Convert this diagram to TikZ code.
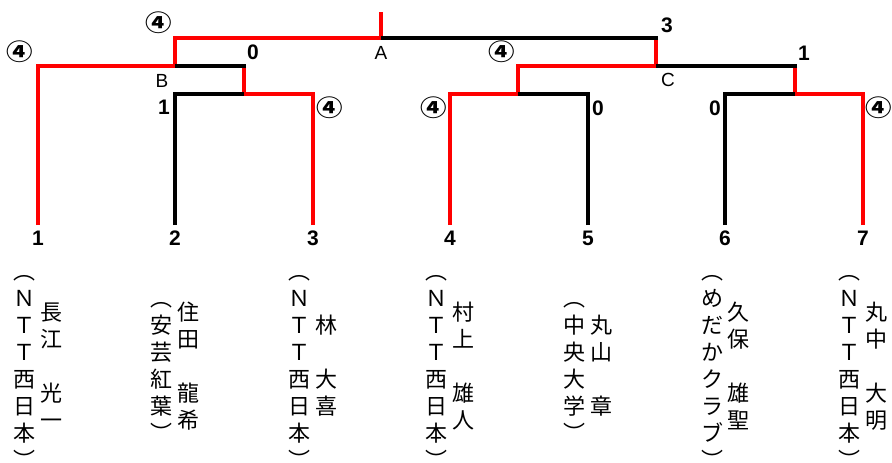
\documentclass[tikz,border=0pt]{standalone}
\usepackage{fontspec}
\usepackage{graphicx}
\setmainfont{Liberation Sans}
\newfontfamily\jp{Noto Sans CJK JP}
\newcommand{\vp}{\vphantom{国}}
\newcommand{\four}{\scalebox{1}[0.87]{④}}
\begin{document}
\begin{tikzpicture}[x=1pt,y=-1pt,
  wl/.style={line width=4pt, line join=miter},
  win/.style={wl, draw=red},
  lose/.style={wl, draw=black},
  num/.style={font=\fontsize{21}{21}\selectfont\bfseries, inner sep=0pt},
  mk/.style={font=\jp\bfseries\fontsize{26.5}{26.5}\selectfont, inner sep=0pt},
  lb/.style={font=\fontsize{19}{19}\selectfont, inner sep=0pt},
  vt/.style={font=\jp\fontsize{22}{27}\selectfont, align=center, inner sep=0pt, anchor=center}
]
\useasboundingbox (0,0) rectangle (892,463);
% bottom ends
\coordinate (b1) at (38,225);
\coordinate (b2) at (175,225);
\coordinate (b3) at (313,225);
\coordinate (b4) at (450,225);
\coordinate (b5) at (588,225);
\coordinate (b6) at (725,225);
\coordinate (b7) at (863,225);
% corners
\coordinate (h1) at (38,66);
\coordinate (h2) at (175,94);
\coordinate (h3) at (313,94);
\coordinate (h4) at (450,94);
\coordinate (h5) at (588,94);
\coordinate (h6) at (725,94);
\coordinate (h7) at (863,94);
% junctions
\coordinate (j23) at (244,94);
\coordinate (u23) at (244,66);
\coordinate (jB) at (175,66);
\coordinate (uB) at (175,38);
\coordinate (j45) at (518,94);
\coordinate (u45) at (518,66);
\coordinate (j67) at (795,94);
\coordinate (u67) at (795,66);
\coordinate (jC) at (656,66);
\coordinate (uC) at (656,38);
\coordinate (jA) at (381,38);
\coordinate (top) at (381,12);
% winners
\draw[win] (b1) -- (h1) -- (jB) -- (uB) -- (jA) -- (top);
\draw[win] (b3) -- (h3) -- (j23) -- (u23);
\draw[win] (b4) -- (h4) -- (j45) -- (u45) -- (jC) -- (uC);
\draw[win] (b7) -- (h7) -- (j67) -- (u67);
% losers
\draw[lose] (b2) -- (h2) -- (j23);
\draw[lose] ([xshift=2pt]u23) -- (jB);
\draw[lose] (b5) -- (h5) -- (j45);
\draw[lose] (b6) -- (h6) -- (j67);
\draw[lose] ([xshift=2pt]u67) -- (jC);
\draw[lose] ([xshift=2pt]uC) -- (jA);
% player numbers
\node[num] (p1) at (38,238) {1};
\node[num] (p2) at (175,238) {2};
\node[num] (p3) at (313,238) {3};
\node[num] (p4) at (450,238) {4};
\node[num] (p5) at (588,238) {5};
\node[num] (p6) at (725,238) {6};
\node[num] (p7) at (863,238) {7};
% match letters
\node[lb] (lA) at (381,53) {A};
\node[lb] (lB) at (162,81) {B};
\node[lb] (lC) at (668,80) {C};
% scores
\node[mk] (s1) at (19.5,52) {\four};
\node[num] (s2) at (164,107) {1};
\node[mk] (s3) at (329.5,107.5) {\four};
\node[num] (sB) at (253,52) {0};
\node[mk] (sA1) at (158.5,23) {\four};
\node[num] (sA2) at (667,25) {3};
\node[mk] (s4) at (434,107.5) {\four};
\node[num] (s5) at (598,108) {0};
\node[mk] (sC1) at (502,52) {\four};
\node[num] (sC2) at (804,53) {1};
\node[num] (s6) at (715,108) {0};
\node[mk] (s7) at (878.5,107.5) {\four};
% names (vertical)
\node[vt] (a1) at (24,366) {\vp︵\\Ｎ\\Ｔ\\Ｔ\\西\\日\\本\\\vp︶};
\node[vt] (m1) at (51,366) {長\\江\\　\\光\\一};
\node[vt] (a2) at (161,366) {\vp︵\\安\\芸\\紅\\葉\\\vp︶};
\node[vt] (m2) at (188,366) {住\\田\\　\\龍\\希};
\node[vt] (a3) at (299,366) {\vp︵\\Ｎ\\Ｔ\\Ｔ\\西\\日\\本\\\vp︶};
\node[vt] (m3) at (326,366) {林\\　\\大\\喜};
\node[vt] (a4) at (436,366) {\vp︵\\Ｎ\\Ｔ\\Ｔ\\西\\日\\本\\\vp︶};
\node[vt] (m4) at (463,366) {村\\上\\　\\雄\\人};
\node[vt] (a5) at (574,366) {\vp︵\\中\\央\\大\\学\\\vp︶};
\node[vt] (m5) at (601,366) {丸\\山\\　\\章};
\node[vt] (a6) at (712,366) {\vp︵\\め\\だ\\か\\ク\\ラ\\ブ\\\vp︶};
\node[vt] (m6) at (738,366) {久\\保\\　\\雄\\聖};
\node[vt] (a7) at (849,366) {\vp︵\\Ｎ\\Ｔ\\Ｔ\\西\\日\\本\\\vp︶};
\node[vt] (m7) at (876,366) {丸\\中\\　\\大\\明};
\end{tikzpicture}
\end{document}
